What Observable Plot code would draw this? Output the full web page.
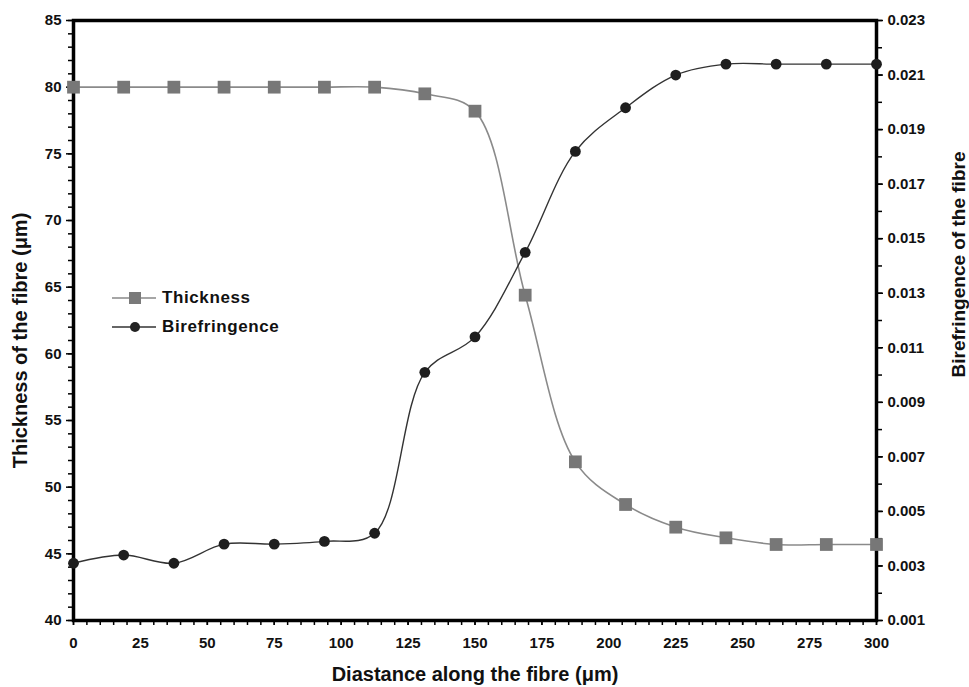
<!DOCTYPE html>
<html>
<head>
<meta charset="utf-8">
<script src="https://cdn.jsdelivr.net/npm/d3@7"></script>
<script src="https://cdn.jsdelivr.net/npm/@observablehq/plot@0.6"></script>
<style>
  html, body { margin: 0; padding: 0; background: #fff; }
  #wrap { position: relative; width: 969px; height: 687px; font-family: "Liberation Sans", Arial, sans-serif; }
  #legend { position: absolute; left: 110px; top: 283px; font-weight: bold; font-size: 17px; color: #111; letter-spacing: 0.6px; }
  #legend .row { display: flex; align-items: center; height: 29px; }
  #legend svg { margin-right: 4px; }
</style>
</head>
<body>
<div id="wrap">
  <div id="chart"></div>
  <div id="legend">
    <div class="row"><svg width="48" height="16"><line x1="2" y1="8" x2="46" y2="8" stroke="#888" stroke-width="1.5"/><rect x="19" y="2" width="12" height="12" fill="#7a7a7a"/></svg>Thickness</div>
    <div class="row"><svg width="48" height="16"><line x1="2" y1="8" x2="46" y2="8" stroke="#333" stroke-width="1.5"/><circle cx="25" cy="8" r="5" fill="#222"/></svg>Birefringence</div>
  </div>
</div>
<script>
// Data
const distance = [0, 18.75, 37.5, 56.25, 75, 93.75, 112.5, 131.25, 150, 168.75, 187.5, 206.25, 225, 243.75, 262.5, 281.25, 300];
const thickness = [80, 80, 80, 80, 80, 80, 80, 79.5, 78.2, 64.4, 51.9, 48.7, 47.0, 46.2, 45.7, 45.7, 45.7];
const birefringence = [0.0031, 0.0034, 0.0031, 0.0038, 0.0038, 0.0039, 0.0042, 0.0101, 0.0114, 0.0145, 0.0182, 0.0198, 0.0210, 0.0214, 0.0214, 0.0214, 0.0214];

const xTicks = [0, 25, 50, 75, 100, 125, 150, 175, 200, 225, 250, 275, 300];
const leftTicks = [40, 45, 50, 55, 60, 65, 70, 75, 80, 85];
const rightTicks = [0.001, 0.003, 0.005, 0.007, 0.009, 0.011, 0.013, 0.015, 0.017, 0.019, 0.021, 0.023];

// map right-axis (birefringence) onto left-axis (thickness) domain
const L0 = 40, L1 = 85, R0 = 0.001, R1 = 0.023;
const toLeft = b => L0 + (b - R0) * (L1 - L0) / (R1 - R0);

const tData = distance.map((d, i) => ({x: d, y: thickness[i]}));
const bData = distance.map((d, i) => ({x: d, y: toLeft(birefringence[i])}));

const xMinor = d3.range(0, 300.001, 5);
const lMinor = d3.range(40, 85.001, 1);
const rMinor = d3.range(0.001, 0.0230001, 0.001).map(toLeft);

const font = `"Liberation Sans", Arial, sans-serif`;
const blank = () => "";

const chart = Plot.plot({
  width: 969,
  height: 687,
  marginLeft: 73,
  marginRight: 93,
  marginTop: 20,
  marginBottom: 67,
  style: {fontFamily: font, fontSize: "14px", fontWeight: "bold", color: "#111", background: "#fff"},
  x: {domain: [0, 300], label: null},
  y: {domain: [L0, L1], label: null},
  marks: [
    Plot.axisX({ticks: xMinor, tickSize: 5, tickFormat: blank, label: null, stroke: "#000", strokeWidth: 1.5}),
    Plot.axisX({ticks: xTicks, tickSize: 5, tickPadding: 12, tickFormat: d3.format("d"), fontSize: 15, fontWeight: "bold", label: null, stroke: "#000", strokeWidth: 1.5}),
    Plot.axisY({ticks: lMinor, tickSize: 5, tickFormat: blank, label: null, stroke: "#000", strokeWidth: 1.5}),
    Plot.axisY({ticks: leftTicks, tickSize: 7, tickPadding: 5, fontSize: 15, fontWeight: "bold", label: null, stroke: "#000", strokeWidth: 1.5}),
    Plot.axisY({anchor: "right", ticks: rMinor, tickSize: 5, tickFormat: blank, label: null, stroke: "#000", strokeWidth: 1.5}),
    Plot.axisY({anchor: "right", ticks: rightTicks.map(toLeft), tickSize: 6, tickPadding: 5, fontSize: 15, fontWeight: "bold", label: null,
      tickFormat: v => d3.format(".3f")(R0 + (v - L0) * (R1 - R0) / (L1 - L0)), stroke: "#000", strokeWidth: 1.5}),
    Plot.frame({stroke: "#000", strokeWidth: 3.5}),
    Plot.line(tData, {x: "x", y: "y", stroke: "#8a8a8a", strokeWidth: 1.6, curve: "catmull-rom"}),
    Plot.line(bData, {x: "x", y: "y", stroke: "#333", strokeWidth: 1.4, curve: "catmull-rom"}),
    Plot.dot(tData, {x: "x", y: "y", symbol: "square", r: 7.2, fill: "#777", stroke: null}),
    Plot.dot(bData, {x: "x", y: "y", symbol: "circle", r: 5.4, fill: "#1e1e1e", stroke: null}),
    // axis titles
    Plot.text(["Diastance along the fibre (μm)"], {frameAnchor: "bottom", textAnchor: "middle", dy: 60, fontSize: 20, fontWeight: "bold", fill: "#111"}),
    Plot.text(["Thickness of the fibre (μm)"], {frameAnchor: "left", textAnchor: "middle", dx: -53, dy: 20, rotate: -90, fontSize: 20, fontWeight: "bold", fill: "#111"}),
    Plot.text(["Birefringence of the fibre"], {frameAnchor: "right", textAnchor: "middle", dx: 82, dy: -56, rotate: -90, fontSize: 19, fontWeight: "bold", fill: "#111"})
  ]
});
document.getElementById("chart").appendChild(chart);
</script>
</body>
</html>
